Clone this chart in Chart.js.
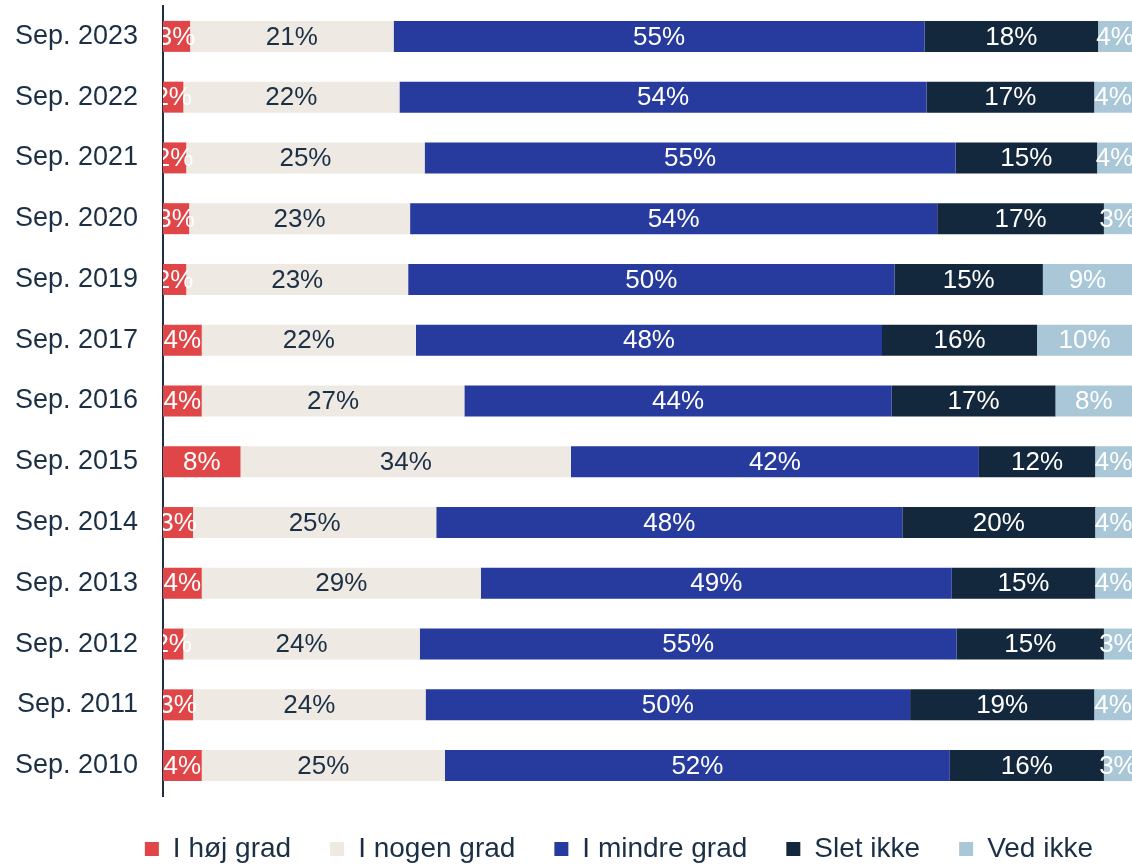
<!DOCTYPE html>
<html lang="da">
<head>
<meta charset="utf-8">
<title>Sep. 2010 - Sep. 2023</title>
<script src="https://cdn.jsdelivr.net/npm/chart.js@4.4.1/dist/chart.umd.min.js"></script>
<style>
    html, body { margin: 0; padding: 0; background: #ffffff; overflow: hidden; }
    #wrap { width: 1132px; height: 866px; position: relative; }
</style>
</head>
<body>
<div id="wrap"><canvas id="chartGrad"></canvas></div>
<script>
// Kategorier (år) og serier
const categories = ["Sep. 2023", "Sep. 2022", "Sep. 2021", "Sep. 2020", "Sep. 2019", "Sep. 2017", "Sep. 2016",
    "Sep. 2015", "Sep. 2014", "Sep. 2013", "Sep. 2012", "Sep. 2011", "Sep. 2010"];

const seriesNames = ["I høj grad", "I nogen grad", "I mindre grad", "Slet ikke", "Ved ikke"];

const hoejGrad   = [2.8, 2.1, 2.4, 2.7, 2.4, 4.0, 4.0, 8.0, 3.1, 4.0, 2.1, 3.1, 4.0];
const nogenGrad  = [21.0, 22.3, 24.6, 22.8, 22.9, 22.1, 27.1, 34.1, 25.1, 28.8, 24.4, 24.0, 25.1];
const mindreGrad = [54.8, 54.4, 54.8, 54.4, 50.2, 48.1, 44.1, 42.1, 48.1, 48.6, 55.4, 50.0, 52.1];
const sletIkke   = [17.9, 17.3, 14.6, 17.2, 15.3, 16.0, 16.9, 12.0, 19.9, 14.8, 15.2, 19.0, 15.9];
const vedIkke    = [3.5, 3.9, 3.6, 2.9, 9.2, 9.8, 7.9, 3.8, 3.8, 3.8, 2.9, 3.9, 2.9];

const colors = ["#e04547", "#eeeae3", "#273a9e", "#13283c", "#a9c7d7"];
const labelColors = ["#ffffff", "#1b2f45", "#ffffff", "#ffffff", "#ffffff"];
const textColor = "#1b2f45";
const fontFamily = "'Liberation Sans', Arial, sans-serif";

// Tegner procent-tal midt i hvert segment (klippet til plotområdet)
const segmentLabels = {
    id: "segmentLabels",
    afterDatasetsDraw(chart) {
        const ctx = chart.ctx;
        const area = chart.chartArea;
        ctx.save();
        ctx.beginPath();
        ctx.rect(area.left, area.top, area.right - area.left, area.bottom - area.top);
        ctx.clip();
        ctx.font = "26px " + fontFamily;
        ctx.textAlign = "center";
        ctx.textBaseline = "middle";
        chart.data.datasets.forEach((ds, i) => {
            const meta = chart.getDatasetMeta(i);
            meta.data.forEach((bar, j) => {
                const x = (bar.x + bar.base) / 2;
                ctx.fillStyle = labelColors[i];
                ctx.fillText(Math.round(ds.data[j]) + "%", x, bar.y + 1);
            });
        });
        ctx.restore();
    }
};

function buildDatasets() {
    const values = [hoejGrad, nogenGrad, mindreGrad, sletIkke, vedIkke];
    return values.map((v, i) => ({
        label: seriesNames[i],
        data: v,
        backgroundColor: colors[i],
        borderWidth: 0,
        categoryPercentage: 1,
        barPercentage: 0.51
    }));
}

function drawChart() {
    const ctx = document.getElementById("chartGrad");
    new Chart(ctx, {
        type: "bar",
        data: { labels: categories, datasets: buildDatasets() },
        plugins: [segmentLabels],
        options: {
            indexAxis: "y",
            responsive: true,
            maintainAspectRatio: false,
            animation: false,
            layout: { padding: { left: 13, right: 0, top: 6, bottom: -7 } },
            scales: {
                x: {
                    stacked: true,
                    min: 0,
                    max: 100,
                    display: false
                },
                y: {
                    stacked: true,
                    grid: { display: false, drawTicks: false },
                    border: { display: true, color: textColor, width: 2 },
                    ticks: {
                        color: textColor,
                        padding: 25,
                        font: { size: 27, family: fontFamily }
                    },
                    // fast bredde på aksen, ingen ekstra luft over/under
                    afterFit(scale) {
                        scale.width = 150;
                        scale.paddingTop = 0;
                        scale.paddingBottom = 0;
                    }
                }
            },
            plugins: {
                legend: {
                    position: "bottom",
                    align: "end",
                    labels: {
                        color: textColor,
                        boxWidth: 14,
                        boxHeight: 14,
                        padding: 39,
                        font: { size: 28, family: fontFamily }
                    }
                },
                tooltip: { enabled: false }
            }
        }
    });
}

document.addEventListener("DOMContentLoaded", drawChart);
</script>
</body>
</html>
